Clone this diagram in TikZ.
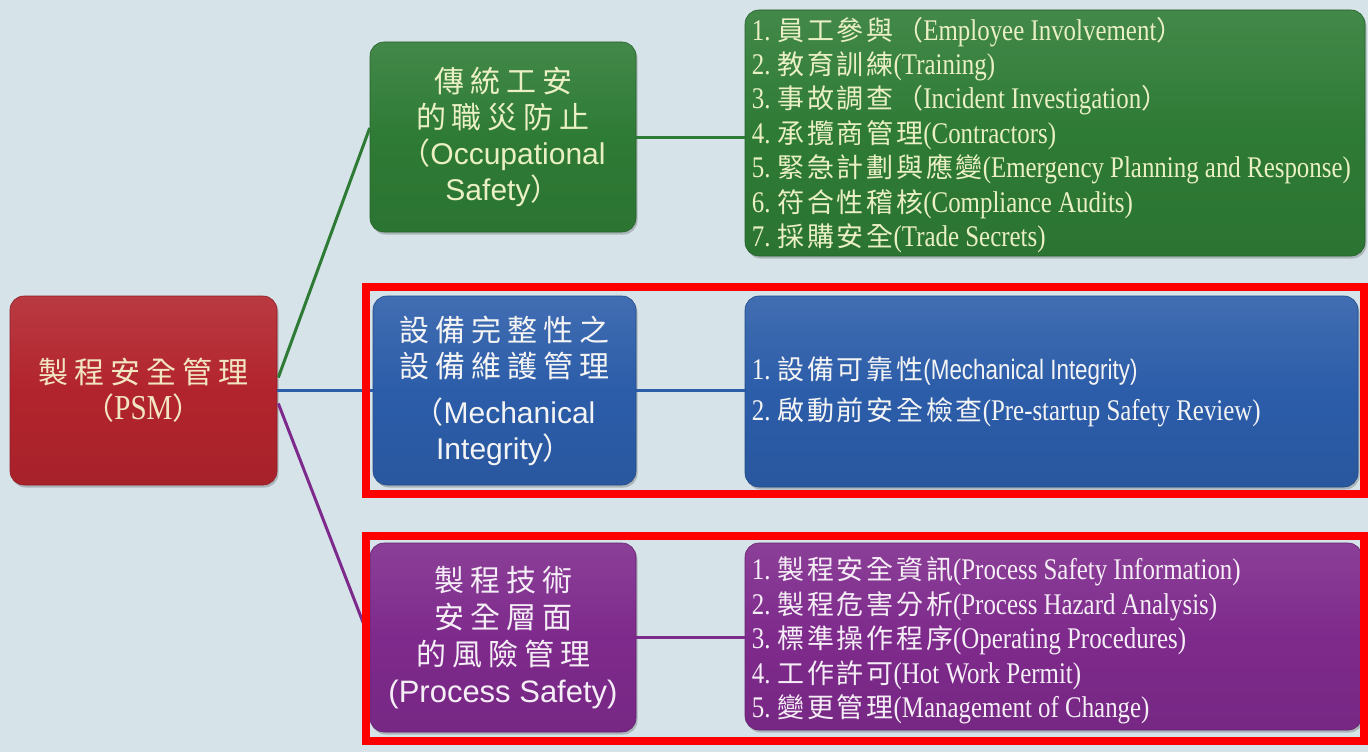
\documentclass[tikz,border=0pt]{standalone}
\usepackage{fontspec}
\setmainfont{Liberation Serif}[FakeStretch=0.83]
\newfontfamily\cjL{Noto Sans CJK TC}[LetterSpace=10]
\newfontfamily\cjB{Noto Sans CJK TC}[LetterSpace=20]
\newfontfamily\sansB{Liberation Sans}
\newfontfamily\sansN{Liberation Sans}[FakeStretch=0.8]
\usetikzlibrary{calc,shadows}
\definecolor{bg}{HTML}{D6E3E9}
\definecolor{cred}{HTML}{B2242D}
\definecolor{cgreen}{HTML}{2E7B35}
\definecolor{cblue}{HTML}{2C5DA9}
\definecolor{cpurple}{HTML}{7E2A8C}
\definecolor{tcream}{HTML}{F2E6C2}
\definecolor{tgreen}{HTML}{EAF0C4}
\definecolor{tblue}{HTML}{F4F4F4}
\definecolor{tpurple}{HTML}{F6EEF6}
\definecolor{hlred}{HTML}{FF0000}
\newcommand\ci[1]{{\fontsize{27}{34}\selectfont\cjL #1}}
\newcommand\itm[3]{#1.\hspace{7pt}\ci{#2}#3}
\begin{document}
\begin{tikzpicture}[x=1pt,y=-1pt,
  boxc/.style={rounded corners=14pt, inner sep=0pt, align=center,
    top color=#1!90!white, bottom color=#1!94!black, middle color=#1,
    draw=#1!80!black, line width=0.6pt,
    drop shadow={shadow xshift=1.5pt, shadow yshift=-2.5pt, opacity=0.3, fill=black!70}},
  listtxt/.style={anchor=west, align=left, inner sep=0pt},
  conn/.style={line width=3pt, draw=#1},
  hl/.style={draw=hlred, line width=8pt}]
\useasboundingbox (0,0) rectangle (1368,752);
\fill[bg] (0,0) rectangle (1368,752);

% root
\node[boxc=cred, minimum width=267pt, minimum height=189pt, text=tcream,
  font=\fontsize{30}{36}\selectfont] (psm) at (143.5,390.5)
  {{\cjB 製程安全管理}\\{\cjB （}{\fontsize{35}{36}\selectfont PSM}{\cjB ）}};

% occupational safety
\node[boxc=cgreen, minimum width=266pt, minimum height=190pt, text=tgreen,
  font=\fontsize{30}{36}\selectfont] (occ) at (503,137)
  {{\cjB 傳統工安}\\{\cjB 的職災防止}\\{\cjB （}{\sansB Occupational}\\{\sansB Safety}{\cjB ）}};
\node[boxc=cgreen, minimum width=620pt, minimum height=246pt] (ol) at (1055,133) {};
\node[listtxt, text=tgreen, font=\fontsize{30}{34.4}\selectfont] (oltxt) at ($(ol.west)+(7,2)$)
  {\itm{1}{員工參與}{\ci{（}Employee Involvement\ci{）}}\\
   \itm{2}{教育訓練}{(Training)}\\
   \itm{3}{事故調查}{\ci{（}Incident Investigation\ci{）}}\\
   \itm{4}{承攬商管理}{(Contractors)}\\
   \itm{5}{緊急計劃與應變}{(Emergency Planning and Response)}\\
   \itm{6}{符合性稽核}{(Compliance Audits)}\\
   \itm{7}{採購安全}{(Trade Secrets)}};

% mechanical integrity
\node[boxc=cblue, minimum width=263pt, minimum height=189pt, text=tblue,
  font=\fontsize{30}{36}\selectfont] (mi) at (504.5,390.5)
  {{\cjB 設備完整性之}\\{\cjB 設備維護管理}\\[10pt]{\cjB （}{\sansB Mechanical}\\{\sansB Integrity}{\cjB ）}};
\node[boxc=cblue, minimum width=613pt, minimum height=191pt] (ml) at (1051.5,391.5) {};
\node[listtxt, text=tblue, font=\fontsize{30}{41}\selectfont] (mltxt) at ($(ml.west)+(7,0)$)
  {\itm{1}{設備可靠性}{{\sansN\fontsize{28}{41}\selectfont (Mechanical Integrity)}}\\
   \itm{2}{啟動前安全檢查}{(Pre-startup Safety Review)}};

% process safety
\node[boxc=cpurple, minimum width=266pt, minimum height=189pt, text=tpurple,
  font=\fontsize{30}{37}\selectfont] (ps) at (503,637.5)
  {{\cjB 製程技術}\\{\cjB 安全層面}\\{\cjB 的風險管理}\\{\sansB\fontsize{31}{37}\selectfont (Process Safety)}};
\node[boxc=cpurple, minimum width=617pt, minimum height=187pt] (pl) at (1053.5,636.5) {};
\node[listtxt, text=tpurple, font=\fontsize{30}{34.5}\selectfont] (pltxt) at ($(pl.west)+(7,4)$)
  {\itm{1}{製程安全資訊}{(Process Safety Information)}\\
   \itm{2}{製程危害分析}{(Process Hazard Analysis)}\\
   \itm{3}{標準操作程序}{(Operating Procedures)}\\
   \itm{4}{工作許可}{(Hot Work Permit)}\\
   \itm{5}{變更管理}{(Management of Change)}};

% connectors
\draw[conn=cgreen] ($(psm.east)+(1,-13)$) -- ($(occ.west)+(0,-9)$);
\draw[conn=cblue] (psm.east) -- (mi.west);
\draw[conn=cpurple] ($(psm.east)+(1,13)$) -- ($(ps.west)+(0,2)$);
\draw[conn=cgreen] (occ.east) -- (occ.east -| ol.west);
\draw[conn=cblue] (mi.east) -- (mi.east -| ml.west);
\draw[conn=cpurple] (ps.east) -- (ps.east -| pl.west);

% highlight frames
\draw[hl] (366,287) rectangle (1364,494);
\draw[hl] (366,536) rectangle (1364,741);
\end{tikzpicture}
\end{document}
